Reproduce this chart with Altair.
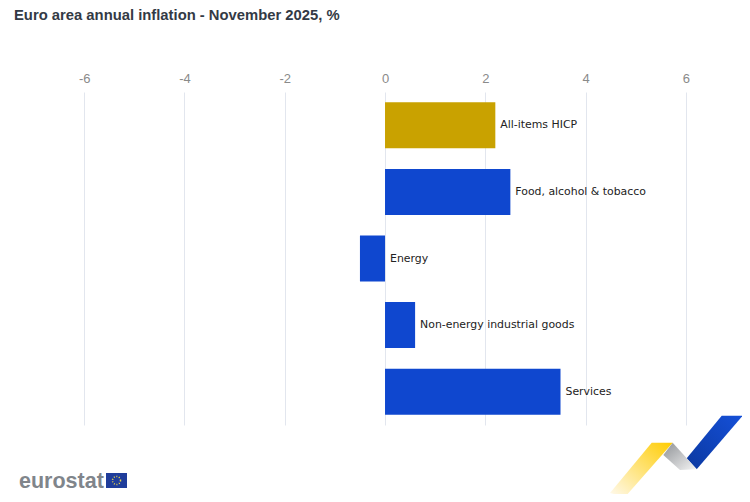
import altair as alt
import pandas as pd

categories = ["All-items HICP", "Food, alcohol & tobacco", "Energy", "Non-energy industrial goods", "Services"]
values = [2.2, 2.5, -0.5, 0.6, 3.5]
groups = ["total", "component", "component", "component", "component"]
ticks = [-6, -4, -2, 0, 2, 4, 6]
title_text = "Euro area annual inflation - November 2025, %"
brand = "eurostat"

df = pd.DataFrame({"category": categories, "value": values, "group": groups})

W, H = 726, 333
x_scale = alt.Scale(domain=[-7.4, 7.08], nice=False, zero=False)
y_enc = alt.Y("category:N", sort=categories, axis=None,
              scale=alt.Scale(paddingInner=0.31, paddingOuter=0.155))

bars = alt.Chart(df).mark_bar(cornerRadius=0).encode(
    x=alt.X("value:Q", scale=x_scale, title=None,
            axis=alt.Axis(orient="top", values=ticks, labelExpr="'' + datum.value", grid=True,
                          gridColor="#e2e6ee", gridWidth=1,
                          domain=False, ticks=False, labelPadding=7, labelFontSize=13,
                          labelFont="Liberation Sans", labelColor="#8a8a8a")),
    y=y_enc,
    color=alt.Color("group:N", legend=None,
                    scale=alt.Scale(domain=["total", "component"], range=["#c9a200", "#0f47cf"])),
)

labels = alt.Chart(df).transform_calculate(pos="max(datum.value, 0)").mark_text(
    align="left", baseline="middle", dx=5, font="DejaVu Sans", fontSize=10.9, color="#222222"
).encode(x=alt.X("pos:Q", scale=x_scale), y=y_enc, text="category:N")

anchor = pd.DataFrame({"a": [0]})
base = alt.Chart(anchor)


def ribbon(path, fill):
    return base.mark_point(shape=path, size=4, filled=True, fill=fill, opacity=1, strokeWidth=0).encode(
        x=alt.value(0), y=alt.value(0))


def grad(x1, y1, x2, y2, c1, c2):
    return alt.Gradient(gradient="linear", x1=x1, y1=y1, x2=x2, y2=y2,
                        stops=[alt.GradientStop(offset=0, color=c1), alt.GradientStop(offset=1, color=c2)])


blue = ribbon("M707.7 323.7 L728.7 323.7 L682.7 377.3 L672.7 366.3 Z", grad(1, 0, 0, 1, "#1550d8", "#0b38a0"))
yellow = ribbon("M637.7 350.7 L658.7 350.7 L611 405 L596 401 Z", grad(1, 0, 0, 1, "#ffcc00", "#fffaf0"))
grey = ribbon("M658.7 350.7 L682.7 377.3 L666 378 L649.3 363 Z", grad(0, 0, 1, 1, "#8f9296", "#f5f5f5"))

brand_text = base.mark_text(align="left", baseline="alphabetic", font="Liberation Sans", fontWeight="bold",
                            fontSize=21.5, color="#80858b").encode(
    x=alt.value(5), y=alt.value(396), text=alt.value(brand))
flag = base.mark_rect(color="#1f3d9b").encode(
    x=alt.value(92), x2=alt.value(113), y=alt.value(381), y2=alt.value(396))
stars = base.mark_point(filled=False, color="#e8d44a", size=64, strokeWidth=1.5, strokeDash=[1, 1.6], opacity=1).encode(
    x=alt.value(102.5), y=alt.value(388.5))

chart = alt.layer(bars, labels, blue, yellow, grey, brand_text, flag, stars).properties(
    width=W, height=H,
    title=alt.Title(title_text, anchor="start", frame="group", offset=49, font="Liberation Sans",
                    fontSize=14.8, fontWeight="bold", color="#333a45"),
    autosize=alt.AutoSizeParams(type="none"),
    padding={"left": 6, "top": 84, "right": 2, "bottom": 69},
).configure_view(stroke=None)

chart.save("out.html", embed_options={"renderer": "svg", "actions": False})
